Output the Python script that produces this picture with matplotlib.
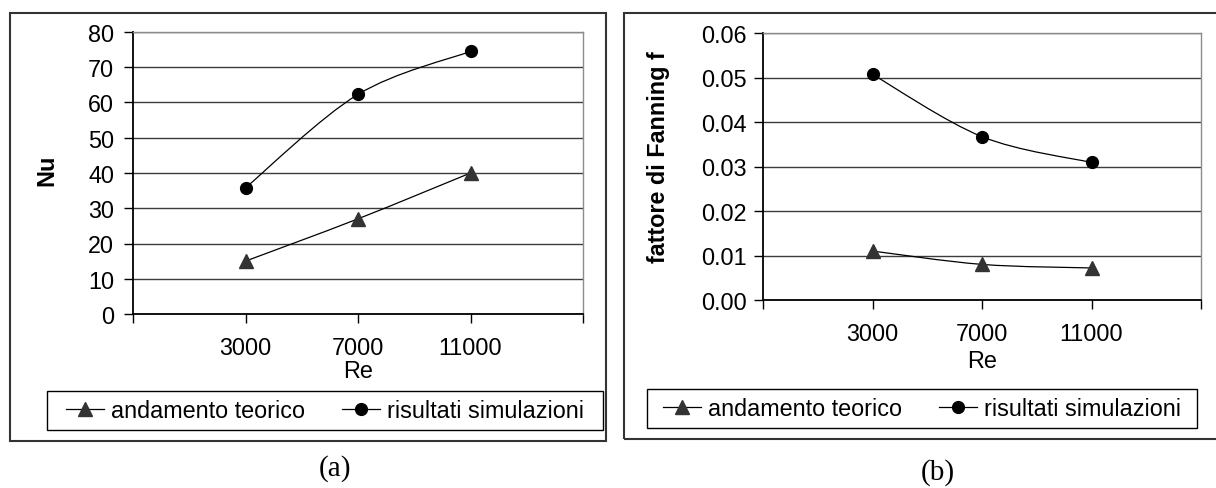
import matplotlib
matplotlib.use('Agg')
import matplotlib.pyplot as plt
from matplotlib.path import Path
from matplotlib.patches import PathPatch, Rectangle
from matplotlib.lines import Line2D
import numpy as np

# Re values and the two quantities compared (theory vs. CFD runs)
re_values = [3000, 7000, 11000]
nu_teorico = [15.0, 27.0, 40.0]
nu_simulazioni = [35.8, 62.3, 74.5]
f_teorico = [0.0110, 0.0080, 0.0072]
f_simulazioni = [0.0507, 0.0367, 0.0309]

x_ticks = [-1000, 3000, 7000, 11000, 15000]
x_ticklabels = ['', '3000', '7000', '11000', '']
nu_ticks = [0, 10, 20, 30, 40, 50, 60, 70, 80]
f_ticks = [0.00, 0.01, 0.02, 0.03, 0.04, 0.05, 0.06]

W, H = 1216, 489
FS = 16.8
plt.rcParams['font.family'] = ['Liberation Sans', 'DejaVu Sans']


def px_box(x0, y0, x1, y1):
    # pixel box measured from the top-left -> figure fractions
    return [x0 / W, 1 - y1 / H, (x1 - x0) / W, (y1 - y0) / H]


def box_frac(box, px, py):
    # pixel position -> axes fractions for a given axes pixel box
    x0, y0, x1, y1 = box
    fx = None if px is None else (px - x0) / (x1 - x0)
    fy = (y1 - py) / (y1 - y0)
    return fx, fy


def smooth_path(x, y):
    # smoothed line like a spreadsheet chart: Catmull-Rom pieces as cubic Beziers
    pts = np.column_stack([x, y]).astype(float)
    ext = np.vstack([pts[0], pts, pts[-1]])
    verts = [pts[0]]
    codes = [Path.MOVETO]
    for i in range(1, len(ext) - 2):
        p0, p1, p2, p3 = ext[i - 1], ext[i], ext[i + 1], ext[i + 2]
        verts += [p1 + (p2 - p0) / 6, p2 - (p3 - p1) / 6, p2]
        codes += [Path.CURVE4] * 3
    return Path(verts, codes)


def panel(fig, box, ylim, yticks, yfmt, ylabel, ylabel_xy, xlabel_y, teo, sim,
          ypad, outer, legend_box, caption, caption_xy):
    ax = fig.add_axes(px_box(*box))
    ax.set_xlim(-1000, 15000)
    ax.set_ylim(*ylim)

    for ys, mk, mc, ms in [(teo, '^', '#333333', 10.5), (sim, 'o', 'black', 8.5)]:
        ax.add_patch(PathPatch(smooth_path(re_values, ys), fill=False,
                               edgecolor='black', lw=0.9, zorder=3))
        ax.plot(re_values, ys, linestyle='none', marker=mk, ms=ms,
                color=mc, mec=mc, zorder=4, clip_on=False)

    ax.set_xticks(x_ticks)
    ax.set_xticklabels(x_ticklabels)
    ax.set_yticks(yticks)
    ax.set_yticklabels([yfmt.format(v) for v in yticks])
    ax.tick_params(axis='both', direction='out', length=6.5, width=1,
                   color='black', labelsize=FS)
    ax.tick_params(axis='y', pad=ypad)
    ax.tick_params(axis='x', pad=9)

    ax.yaxis.grid(True, color='#3c3c3c', lw=1.0)
    ax.set_axisbelow(True)
    for s in ['left', 'bottom']:
        ax.spines[s].set_color('black')
        ax.spines[s].set_linewidth(1.3)
    for s in ['top', 'right']:
        ax.spines[s].set_color('#8c8c8c')
        ax.spines[s].set_linewidth(1.0)

    ax.set_xlabel('Re', fontsize=FS)
    ax.xaxis.set_label_coords(0.5, box_frac(box, None, xlabel_y)[1])
    ax.xaxis.label.set_va('center')
    ax.set_ylabel(ylabel, fontsize=FS, fontweight='bold')
    ax.yaxis.set_label_coords(*box_frac(box, *ylabel_xy))
    ax.yaxis.label.set_va('center')

    # chart area border
    fig.patches.append(Rectangle((outer[0] / W, 1 - outer[3] / H),
                                 (outer[2] - outer[0]) / W, (outer[3] - outer[1]) / H,
                                 transform=fig.transFigure, fill=False,
                                 edgecolor='#333333', lw=1.5))
    # legend box
    lx0, ly0, lx1, ly1 = legend_box
    fig.patches.append(Rectangle((lx0 / W, 1 - ly1 / H), (lx1 - lx0) / W, (ly1 - ly0) / H,
                                 transform=fig.transFigure, fill=False,
                                 edgecolor='black', lw=1.0))
    handles = [Line2D([], [], color='black', lw=0.9, marker='^', ms=10.5,
                      mfc='#333333', mec='#333333'),
               Line2D([], [], color='black', lw=0.9, marker='o', ms=8.5,
                      mfc='black', mec='black')]
    fig.legend(handles, ['andamento teorico', 'risultati simulazioni'],
               loc='center', bbox_to_anchor=((lx0 + lx1) / 2 / W, 1 - (ly0 + ly1) / 2 / H),
               ncol=2, frameon=False, fontsize=FS, handlelength=1.65,
               handletextpad=0.3, columnspacing=1.55, borderpad=0, borderaxespad=0)

    fig.text(caption_xy[0] / W, 1 - caption_xy[1] / H, caption,
             family=['Liberation Serif', 'DejaVu Serif'], fontsize=21,
             ha='center', va='center')
    return ax


fig = plt.figure(figsize=(W / 100, H / 100), dpi=100)

panel(fig, (133, 33, 583, 315), (0, 80), nu_ticks, '{:g}', 'Nu', (47, 170), 372,
      nu_teorico, nu_simulazioni, 7,
      (10, 14, 606, 442), (47, 392, 603, 431), '(a)', (335, 469))
panel(fig, (763, 34, 1201, 301), (0, 0.06), f_ticks, '{:.2f}', 'fattore di Fanning f',
      (658, 157), 362, f_teorico, f_simulazioni, 5,
      (624, 14, 1218, 440), (647, 390, 1197, 429), '(b)', (938, 473))

fig.savefig('out.png', dpi=100)
